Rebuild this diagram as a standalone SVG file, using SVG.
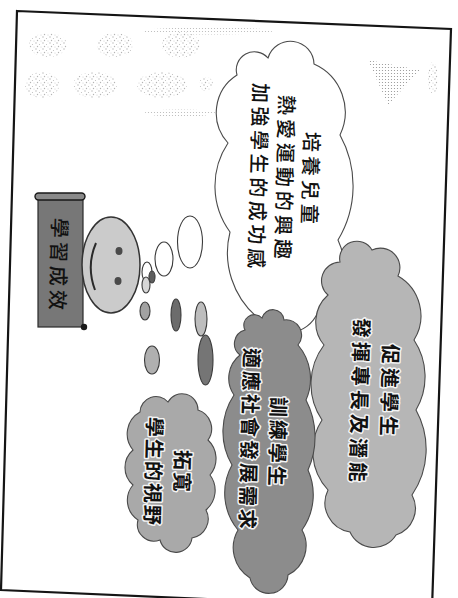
<svg xmlns="http://www.w3.org/2000/svg" width="458" height="598" viewBox="0 0 458 598">
  <defs>
    <pattern id="halftone" width="3" height="3" patternUnits="userSpaceOnUse">
      <circle cx="1.5" cy="1.5" r="0.6" fill="#6a6a6a"/>
    </pattern>
    <pattern id="speckle" width="7" height="6" patternUnits="userSpaceOnUse">
      <circle cx="1" cy="1" r="0.7" fill="#777"/>
      <circle cx="4.5" cy="2.5" r="0.6" fill="#888"/>
      <circle cx="2.5" cy="4.5" r="0.7" fill="#777"/>
      <circle cx="6" cy="5" r="0.5" fill="#999"/>
    </pattern>
    <style>
      .frame { fill: #ffffff; stroke: #151515; stroke-width: 2.2; }
      .faint { fill: url(#speckle); opacity: 0.55; }
      .streak { fill: url(#halftone); opacity: 0.5; }
      .cloud { stroke: #4a4a4a; stroke-width: 1.1; }
      .bubble { stroke: #3a3a3a; stroke-width: 1.1; }
      .col { font-family: "Noto Sans CJK TC", "Noto Sans CJK SC", sans-serif; font-size: 20px; fill: #111; dominant-baseline: central; }
      .plain { font-weight: 500; }
      .halo { font-weight: 700; stroke: #f4f4f4; stroke-width: 3; paint-order: stroke; stroke-linejoin: round; }
    </style>
  </defs>

  <rect width="458" height="598" fill="#ffffff"/>

  <!-- page border, slightly skewed -->
  <g id="frame">
    <path class="frame" d="M17,11 L451,29 L432,609 L1,590 Z"/>
  </g>

  <!-- faded header decoration -->
  <g id="background">
    <ellipse class="streak" cx="208" cy="31" rx="65" ry="3.5"/>
    <ellipse class="faint" cx="48" cy="45" rx="19" ry="12"/>
    <ellipse class="faint" cx="115" cy="45" rx="18" ry="12"/>
    <ellipse class="faint" cx="181" cy="45" rx="19" ry="13"/>
    <ellipse class="faint" cx="42" cy="85" rx="17" ry="13"/>
    <ellipse class="faint" cx="95" cy="85" rx="22" ry="13"/>
    <ellipse class="faint" cx="162" cy="85" rx="25" ry="13"/>
    <ellipse class="faint" cx="206" cy="84" rx="7" ry="7"/>
    <ellipse class="streak" cx="180" cy="113" rx="36" ry="3.5"/>
    <polygon class="streak" points="368,60 420,70 388,105" style="opacity:0.75"/>
    <ellipse class="faint" cx="433" cy="78" rx="5" ry="16"/>
  </g>

  <!-- title banner -->
  <g id="banner">
    <rect x="38" y="198" width="45" height="129" fill="#777777" stroke="#2a2a2a" stroke-width="1.2"/>
    <rect x="35" y="193" width="50" height="7" rx="3.5" fill="#8a8a8a" stroke="#1a1a1a" stroke-width="1.4"/>
    <circle cx="84" cy="327" r="3.2" fill="#1a1a1a"/>
    <text class="col plain" transform="translate(61,218) rotate(91.5)" letter-spacing="4">學習成效</text>
  </g>

  <!-- smiling face -->
  <g id="face">
    <ellipse cx="111" cy="265" rx="29" ry="48" fill="#cbcbcb" stroke="#333" stroke-width="1.5"/>
    <ellipse cx="119" cy="251" rx="3.5" ry="4" fill="#4a4a4a"/>
    <ellipse cx="118" cy="281" rx="3.5" ry="4" fill="#4a4a4a"/>
    <path d="M96,243 Q86,266 95,290" fill="none" stroke="#2a2a2a" stroke-width="2"/>
  </g>

  <!-- thought bubbles leading to the clouds -->
  <g id="connectors">
    <ellipse class="bubble" cx="147" cy="272" rx="5" ry="10" fill="#ffffff"/>
    <ellipse class="bubble" cx="152" cy="277" rx="3" ry="6" fill="#5e5e5e"/>
    <ellipse class="bubble" cx="164" cy="259" rx="9" ry="17" fill="#ffffff"/>
    <ellipse class="bubble" cx="190" cy="242" rx="12.5" ry="26" fill="#ffffff"/>
    <ellipse class="bubble" cx="146" cy="285" rx="4" ry="8" fill="#d6d6d6"/>
    <ellipse class="bubble" cx="145" cy="311" rx="5" ry="9" fill="#a2a2a2"/>
    <ellipse class="bubble" cx="176" cy="315" rx="5" ry="16" fill="#6c6c6c"/>
    <ellipse class="bubble" cx="201" cy="319" rx="6" ry="17" fill="#bdbdbd"/>
    <ellipse class="bubble" cx="205.5" cy="360" rx="7.5" ry="25" fill="#757575"/>
    <ellipse class="bubble" cx="152" cy="360" rx="7.5" ry="14" fill="#b0b0b0"/>
  </g>

  <!-- main white cloud -->
  <g id="cloud-main">
    <path class="cloud" fill="#ffffff" d="M237,75 A18.1,18.1 0 0 1 268,58 A23.5,23.5 0 0 1 314,64 A52.7,52.7 0 0 1 340,135 A105,105 0 0 1 338,240 A57,57 0 0 1 318,312 A34.2,34.2 0 0 1 258,318 A85,85 0 0 1 230,232 A77.7,77.7 0 0 1 228,143 A44.8,44.8 0 0 1 237,75 Z"/>
    <text class="col plain" transform="translate(313,132) rotate(91.5)" letter-spacing="4">培養兒童</text>
    <text class="col plain" transform="translate(288,95) rotate(91.5)" letter-spacing="4">熱愛運動的興趣</text>
    <text class="col plain" transform="translate(262,83) rotate(91.5)" letter-spacing="3.6">加強學生的成功感</text>
  </g>

  <!-- light grey cloud on the right -->
  <g id="cloud-talent">
    <path class="cloud" fill="#b6b6b6" d="M340,262 A17.3,17.3 0 0 1 372,250 A19.5,19.5 0 0 1 398,276 A45.9,45.9 0 0 1 414,340 A66,66 0 0 1 416,410 A81,81 0 0 1 412,495 A28,28 0 0 1 396,535 A26,26 0 0 1 350,532 A29.4,29.4 0 0 1 328,490 A57,57 0 0 1 322,420 A64.6,64.6 0 0 1 324,345 A36,36 0 0 1 328,295 A18.8,18.8 0 0 1 340,262 Z"/>
    <text class="col halo" transform="translate(392,344) rotate(91.5)" letter-spacing="4">促進學生</text>
    <text class="col halo" transform="translate(363,318) rotate(91.5)" letter-spacing="4">發揮專長及潛能</text>
  </g>

  <!-- dark grey cloud in the middle -->
  <g id="cloud-society">
    <path class="cloud" fill="#8c8c8c" d="M245,330 A10.5,10.5 0 0 1 262,318 A11.2,11.2 0 0 1 284,320 A15.3,15.3 0 0 1 298,345 A52,52 0 0 1 306,400 A80.6,80.6 0 0 1 308,470 A60.8,60.8 0 0 1 302,530 A32.6,32.6 0 0 1 288,575 A19.2,19.2 0 0 1 250,578 A35.6,35.6 0 0 1 238,530 A57.8,57.8 0 0 1 232,465 A66,66 0 0 1 234,395 A29.5,29.5 0 0 1 240,355 A14.2,14.2 0 0 1 245,330 Z"/>
    <text class="col halo" transform="translate(280,397) rotate(91.5)" letter-spacing="3">訓練學生</text>
    <text class="col halo" transform="translate(253,348) rotate(91.5)" letter-spacing="3">適應社會發展需求</text>
  </g>

  <!-- small grey cloud on the left -->
  <g id="cloud-vision">
    <path class="cloud" fill="#a9a9a9" d="M140,412 A16,16 0 0 1 168,402 A16,16 0 0 1 198,410 A19.6,19.6 0 0 1 208,440 A25.4,25.4 0 0 1 210,475 A25.6,25.6 0 0 1 206,510 A19.3,19.3 0 0 1 192,538 A16.3,16.3 0 0 1 160,540 A16.7,16.7 0 0 1 138,520 A23.6,23.6 0 0 1 133,485 A23.1,23.1 0 0 1 133,450 A25.2,25.2 0 0 1 140,412 Z"/>
    <text class="col halo" transform="translate(184,450) rotate(91.5)" letter-spacing="2">拓寬</text>
    <text class="col halo" transform="translate(156,417) rotate(91.5)" letter-spacing="2">學生的視野</text>
  </g>
</svg>
